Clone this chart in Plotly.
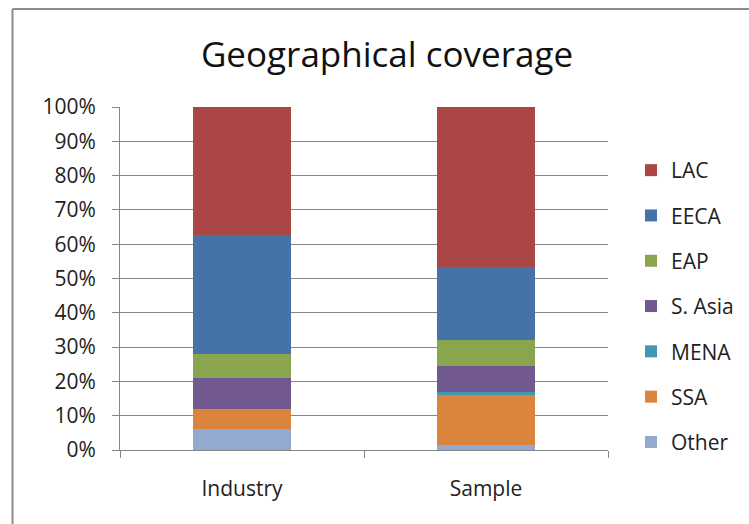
import plotly.graph_objects as go

categories = ["Industry", "Sample"]
series_names = ["Other", "SSA", "MENA", "S. Asia", "EAP", "EECA", "LAC"]
other = [6.0, 1.4]
ssa = [6.0, 14.7]
mena = [0.0, 0.7]
s_asia = [9.0, 7.7]
eap = [7.0, 7.7]
eeca = [34.7, 21.1]
lac = [37.3, 46.7]
series_values = [other, ssa, mena, s_asia, eap, eeca, lac]
colors = ["#93A9CF", "#DB843D", "#4198AF", "#71588F", "#89A54E", "#4572A7", "#AA4643"]
yticks = [0, 10, 20, 30, 40, 50, 60, 70, 80, 90, 100]

FONT = "Open Sans"
W, H = 749, 524
L, R, T, B = 120, 141, 107, 74
pw, ph = W - L - R, H - T - B

fig = go.Figure()
n = len(series_names)
for i, (name, vals, col) in enumerate(zip(series_names, series_values, colors)):
    fig.add_trace(go.Bar(
        x=categories, y=vals, name=name, marker=dict(color=col, line=dict(width=0)),
        legendgroup=name, legendrank=100 + (n - i),
    ))

def px_x(x):
    return (x - L) / pw

def px_y(y):
    return (H - B - y) / ph

fig.update_layout(
    width=W, height=H, barmode="stack", bargap=0.6,
    margin=dict(l=L, r=R, t=T, b=B, autoexpand=False),
    paper_bgcolor="white", plot_bgcolor="white",
    font=dict(family=FONT, size=21, color="#222222"),
    title=dict(text="Geographical coverage", font=dict(family=FONT, size=35, color="#111111"),
               x=px_x(387), xref="paper", xanchor="center",
               y=1 - 55 / H, yref="container", yanchor="middle"),
    xaxis=dict(showgrid=False, showline=True, linecolor="#868686", linewidth=1,
               ticks="outside", tickson="boundaries", ticklen=7, tickcolor="#868686",
               ticklabelstandoff=20, tickfont=dict(size=21)),
    yaxis=dict(range=[0, 100], tickvals=yticks, ticktext=[f"{v}%" for v in yticks],
               showgrid=True, gridcolor="#868686", gridwidth=1,
               showline=True, linecolor="#868686", linewidth=1,
               ticks="outside", ticklen=7, tickcolor="#868686",
               ticklabelstandoff=12, tickfont=dict(size=21), zeroline=False),
    legend=dict(x=px_x(631), xanchor="left", y=px_y(150), yanchor="top",
                traceorder="grouped", tracegroupgap=15,
                font=dict(size=21), bgcolor="rgba(0,0,0,0)"),
    shapes=[
        dict(type="line", xref="paper", yref="paper", x0=px_x(12.5), x1=px_x(12.5),
             y0=px_y(9), y1=px_y(530), line=dict(color="#8C8C8C", width=2)),
        dict(type="line", xref="paper", yref="paper", x0=px_x(12.5), x1=px_x(760),
             y0=px_y(9), y1=px_y(9), line=dict(color="#8C8C8C", width=2)),
    ],
)

fig.write_html("out.html")
